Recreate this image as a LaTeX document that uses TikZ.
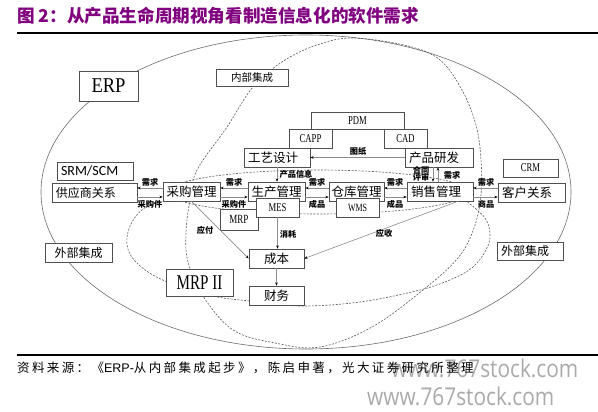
\documentclass[tikz,border=0pt]{standalone}
\usepackage{fontspec}
\setmainfont{Liberation Serif}
\newfontfamily\cjk{Noto Sans CJK SC}
\newfontfamily\cjksrc[LetterSpace=19]{Noto Sans CJK SC}
\newfontfamily\nser[FakeStretch=0.72]{Liberation Serif}
\newfontfamily\mser[FakeStretch=0.88]{Liberation Serif}
\newfontfamily\carl{Carlito}
\newfontfamily\lsans{Liberation Sans}
\newfontfamily\wmf[FakeStretch=0.85]{Open Sans}
\usetikzlibrary{arrows.meta}
\definecolor{titlec}{RGB}{128,0,128}
\definecolor{boxc}{RGB}{80,80,80}
\definecolor{linec}{RGB}{140,140,140}
\definecolor{dashc}{RGB}{90,90,90}
\definecolor{ellcol}{RGB}{110,110,110}
\definecolor{wmc}{RGB}{170,170,170}
\newcommand\zhbox{\cjk\fontsize{12.5}{14}\selectfont}
\newcommand\zhlab{\cjk\bfseries\fontsize{8.2}{9}\selectfont}
\newcommand\serlab{\nser\fontsize{12}{14}\selectfont}
\tikzset{
  bx/.style 2 args={draw=boxc, line width=0.7pt, fill=white, inner sep=0pt,
    minimum width=#1, minimum height=#2, font=\zhbox},
  lbx/.style n args={3}{bx={#1}{#2}, inner xsep=4pt, text width=#3, align=left},
  lab/.style={inner sep=0pt, font=\zhlab},
  arr/.style={draw=linec, line width=0.6pt, -{Stealth[length=3.2pt,width=2.6pt,color=black]}},
  dsh/.style={draw=dashc, line width=0.6pt, dash pattern=on 2pt off 1.4pt},
  ellc/.style={draw=ellcol, line width=0.6pt},
}
\begin{document}
\begin{tikzpicture}[x=1pt,y=-1pt]
\useasboundingbox (0,0) rectangle (598,412);
\fill[white] (0,0) rectangle (598,412);

% title
\node[anchor=west, inner sep=0pt, text=titlec, font=\cjk\bfseries\fontsize{17.6}{20}\selectfont] (title) at (17,16) {图 2：从产品生命周期视角看制造信息化的软件需求};
\draw[line width=1.3pt] (17,33) -- (598,33);

% outer ERP ellipse
\draw[ellc] (306,192) ellipse [x radius=265pt, y radius=157pt];

% internal integration loop
\draw[dsh] plot[smooth cycle, tension=0.6] coordinates {(354,38) (408,46) (440,60) (462,90) (476,125) (481,160) (481,195) (474,228) (458,258) (423,290) (372,327) (320,347) (275,343) (233,330) (203,296) (188,262) (186,232) (190,200) (197,170) (227,127) (253,87) (285,60) (320,44)};

% MRP thin loop
\draw[dsh] (318,192) ellipse [x radius=150pt, y radius=22pt];

% MRP II loop
\draw[dsh] plot[smooth, tension=0.6] coordinates {(185,199) (150,205) (132,222) (127,245) (138,264) (165,281) (213,296) (250,301) (300,306) (360,302) (420,290) (452,279) (473,267) (486,250) (490,235) (485,218) (465,200)};

% boxes
\node[bx={59pt}{30pt}, font=\mser\fontsize{21}{24}\selectfont] (erp) at (108.5,86) {ERP};
\node[bx={72pt}{17pt}, font=\cjk\fontsize{10.5}{12}\selectfont] (nbjc) at (252,77.5) {内部集成};
\node[bx={93pt}{17pt}, font=\serlab] (pdm) at (357.5,120.5) {PDM};
\node[bx={43pt}{19pt}, font=\serlab] (capp) at (310.5,138.5) {CAPP};
\node[bx={43pt}{19pt}, font=\serlab] (cad) at (405.5,138.5) {CAD};
\node[lbx={66pt}{19pt}{58pt}] (gysj) at (277,157.5) {工艺设计};
\node[lbx={68pt}{19pt}{60pt}] (cpyf) at (439,157.5) {产品研发};
\node[lbx={76pt}{18pt}{68pt}, font=\carl\fontsize{14}{16}\selectfont] (srm) at (95,171) {SRM/SCM};
\node[bx={55pt}{18pt}, font=\serlab] (crm) at (530.5,168) {CRM};
\node[lbx={85pt}{19pt}{77pt}, font=\cjk\fontsize{12}{14}\selectfont] (gys) at (94.5,192.5) {供应商关系};
\node[bx={57pt}{19pt}] (cg) at (191.5,191.5) {采购管理};
\node[bx={57pt}{19pt}] (sc) at (276.5,191.5) {生产管理};
\node[bx={55pt}{19pt}] (ck) at (356.5,191.5) {仓库管理};
\node[lbx={66pt}{19pt}{58pt}] (xs) at (440,191.5) {销售管理};
\node[lbx={67pt}{19pt}{59pt}] (kh) at (531.5,192.5) {客户关系};
\node[bx={38pt}{21pt}, font=\nser\fontsize{12.5}{14}\selectfont] (mrp) at (239,219.5) {MRP};
\node[bx={43pt}{19pt}, font=\serlab] (mes) at (277.5,207.5) {MES};
\node[bx={43pt}{19pt}, font=\nser\fontsize{11}{13}\selectfont] (wms) at (357.5,207.5) {WMS};
\node[bx={55pt}{19pt}] (cb) at (276.5,258.5) {成本};
\node[bx={55pt}{19pt}] (cw) at (276.5,295.5) {财务};
\node[bx={67pt}{27pt}, font=\nser\fontsize{21}{23}\selectfont] (mrp2) at (199.5,282.5) {MRP II};
\node[bx={67pt}{19pt}, font=\cjk\fontsize{12}{14}\selectfont] (wbl) at (78.5,252.5) {外部集成};
\node[lbx={66pt}{18pt}{58pt}, font=\cjk\fontsize{12}{14}\selectfont] (wbr) at (530,251) {外部集成};

% helper coordinates
\coordinate (yu) at (0,188);
\coordinate (yl) at (0,197);
\coordinate (xa) at (433,0);
\coordinate (xb) at (438,0);
\coordinate (xc) at (458,0);

% connectors
\draw[arr] (cg.west|-yu) -- (gys.east|-yu);
\draw[arr] (gys.east|-yl) -- (cg.west|-yl);
\draw[arr] (sc.west|-yu) -- (cg.east|-yu);
\draw[arr] (cg.east|-yl) -- (sc.west|-yl);
\draw[arr] (ck.west|-yu) -- (sc.east|-yu);
\draw[arr] (sc.east|-yl) -- (ck.west|-yl);
\draw[arr] (xs.west|-yu) -- (ck.east|-yu);
\draw[arr] (ck.east|-yl) -- (xs.west|-yl);
\draw[arr] (kh.west|-yu) -- (xs.east|-yu);
\draw[arr] (xs.east|-yl) -- (kh.west|-yl);
\draw[arr] (cpyf.west) -- (gysj.east);
\draw[arr] (cpyf.south-|xa) -- (xs.north-|xa);
\draw[arr] (xs.north-|xb) -- (cpyf.south-|xb);
\draw[arr] (gysj.south) -- (gysj.south|-sc.north);
\draw[arr] (mes.south) -- (mes.south|-cb.north);
\draw[arr] (cb.south) -- (cw.north);
\draw[arr] (cg.south) -- (cb.west);
\draw[arr] (xs.south-|xc) -- (cb.east);

% labels
\node[lab] (l1) at (150,182) {需求};
\node[lab] (l2) at (150,204) {采购件};
\node[lab] (l3) at (234,182) {需求};
\node[lab] (l4) at (234,204) {采购件};
\node[lab] (l5) at (317,182) {需求};
\node[lab] (l6) at (317,204) {成品};
\node[lab] (l7) at (395,182) {需求};
\node[lab] (l8) at (395,204) {成品};
\node[lab] (l9) at (486,182) {需求};
\node[lab] (l10) at (486,204) {商品};
\node[lab] (l11) at (358,151) {图纸};
\node[lab] (l12) at (296,174) {产品信息};
\node[lab, align=center] (l13) at (421,174) {合同\\[-1.5pt]评审};
\node[lab] (l14) at (452,175) {需求};
\node[lab] (l15) at (205,230) {应付};
\node[lab] (l16) at (288,234) {消耗};
\node[lab] (l17) at (384,233) {应收};

% footer
\draw[line width=1.2pt] (17,355) -- (598,355);
\node[anchor=west, inner sep=0pt, text=wmc, font=\wmf\fontsize{24.5}{27}\selectfont] (wm1) at (391,368) {www.767stock.com};
\node[anchor=west, inner sep=0pt, text=wmc, font=\wmf\fontsize{24.5}{27}\selectfont] (wm2) at (367,396) {www.767stock.com};
\node[anchor=west, inner sep=0pt, font=\cjksrc\fontsize{12.5}{14}\selectfont] (src) at (17,368) {资料来源：《{\lsans ERP-}从内部集成起步》，陈启申著，光大证券研究所整理};
\end{tikzpicture}
\end{document}
